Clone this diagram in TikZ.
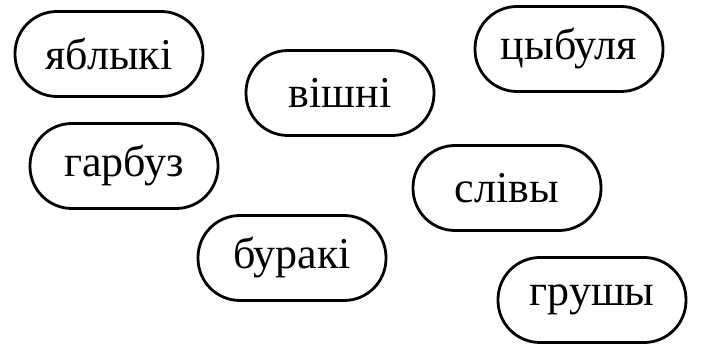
\documentclass[tikz,border=0pt]{standalone}
\usepackage{fontspec}
\setmainfont{Liberation Serif}
\begin{document}
\begin{tikzpicture}[x=1pt,y=-1pt,
  pill/.style={draw=black, line width=2.8pt, rounded corners=42pt,
    minimum width=188pt, minimum height=85pt, inner sep=0pt,
    font=\fontsize{44}{48}\selectfont}]
\useasboundingbox (0,0) rectangle (701,352);
\node[pill] (yabl) at (109,54) {яблыкі};
\node[pill] (vish) at (340,93) {вішні};
\node[pill] (cyb) at (569,49) {цыбуля};
\node[pill] (garb) at (124,166) {гарбуз};
\node[pill] (sliv) at (507,188) {слівы};
\node[pill] (bur) at (292,258) {буракі};
\node[pill] (grush) at (592,300) {грушы};
\end{tikzpicture}
\end{document}
